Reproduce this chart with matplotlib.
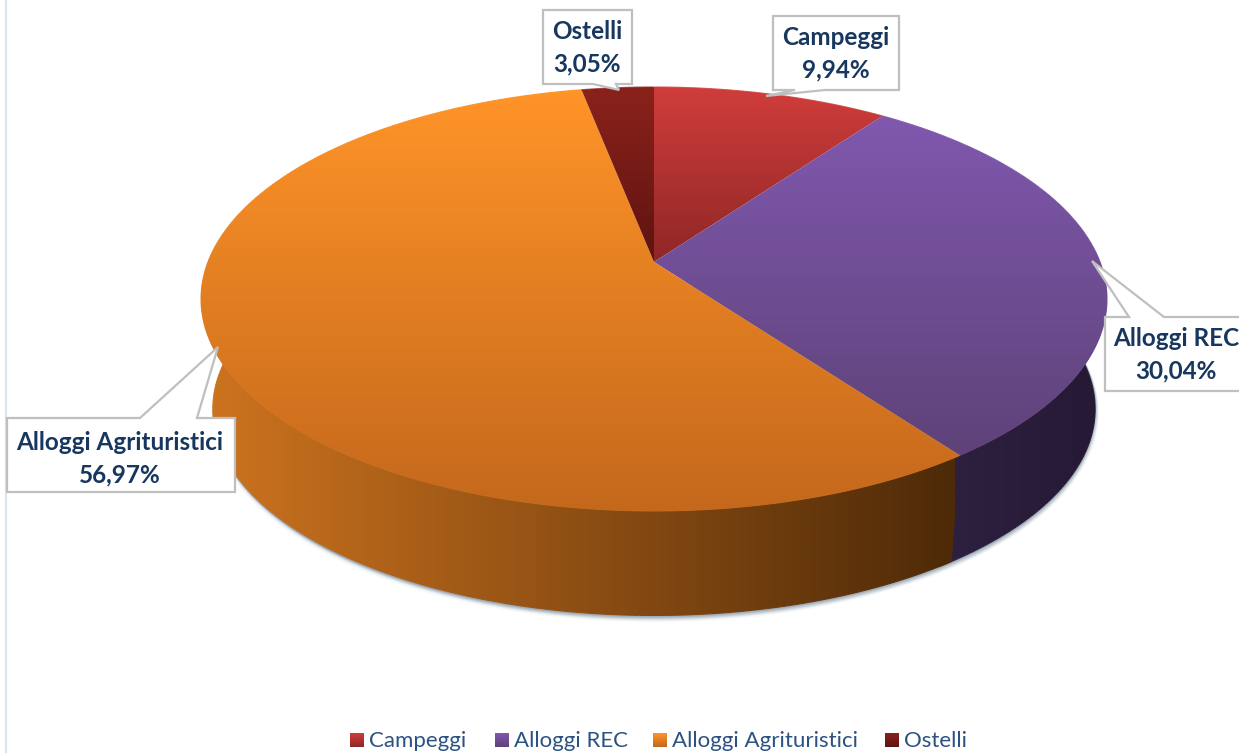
#!/usr/bin/env python3
import numpy as np
import matplotlib
matplotlib.use('Agg')
import matplotlib.pyplot as plt
from matplotlib.collections import LineCollection
from matplotlib.colors import LinearSegmentedColormap
from matplotlib.patches import PathPatch, Polygon
from matplotlib.path import Path

categories = ['Campeggi', 'Alloggi REC', 'Alloggi Agrituristici', 'Ostelli']
shares = [9.94, 30.04, 56.97, 3.05]

TEXT_DARK = '#17375E'; TEXT_LEG = '#2C5282'; BOX_EDGE = '#BFBFBF'
top_colors = [('#D03D3B', '#8E2726'), ('#8058AE', '#5E4278'),
              ('#FF9428', '#C4681C'), ('#8A221B', '#5F1310')]
side_colors = [('#8E2726', '#5F1A19'), ('#2E2140', '#241833'),
               ('#CE741F', '#4E2A08'), ('#5F1310', '#4A0F0C')]
# y span of the vertical gradient on each top slice
top_span = [(87, 262), (116, 456), (90, 511), (87, 262)]

CX, CY = 654, 262
KP = 0.1745; RX = 446; RY = 205.5
DEPTH = 111; SHRINK = 0.974

fig = plt.figure(figsize=(12.39, 7.53), dpi=100)
ax = fig.add_axes([0, 0, 1, 1])
ax.set_xlim(0, 1239); ax.set_ylim(753, 0); ax.axis('off')


def rim(deg, lower=False):
    t = np.radians(deg)
    c, s = np.sin(t), -np.cos(t)
    d = 1 - KP * s
    x, y = RX * c / d, RY * s / d
    if lower:
        return CX + SHRINK * x, CY + DEPTH + SHRINK * y
    return CX + x, CY + y


def grad(verts, c0, c1, x0, y0, x1, y1, vertical=True, z=2):
    cm = LinearSegmentedColormap.from_list('g', [c0, c1])
    arr = np.linspace(0, 1, 256)
    arr = arr[:, None] if vertical else arr[None, :]
    im = ax.imshow(arr, cmap=cm, extent=[x0, x1, y1, y0], aspect='auto', zorder=z,
                   interpolation='bilinear', origin='upper')
    clip = PathPatch(Path(verts), transform=ax.transData, fc='none', ec='none')
    ax.add_patch(clip)
    im.set_clip_path(clip)
    return cm


edges = np.concatenate([[0], np.cumsum(shares)]) / sum(shares) * 360

# soft shadow under the side wall
ang = np.linspace(60, 300, 200)
bx, by = rim(ang, True)
for off, a in zip([7, 6, 5, 4, 3, 2, 1], [.03, .04, .06, .08, .10, .14, .18]):
    ax.fill(bx, by + off, color='#6F8296', alpha=a, lw=0, zorder=1)
    ax.plot(bx + off * .4, by + off * .6, color='#6F8296', alpha=a, lw=1.5, zorder=1)

# side wall, only the part that can be seen; purple first so orange overlaps it
for i in [1, 2]:
    a0 = max(edges[i], 60); a1 = min(edges[i + 1], 300)
    if i == 1:
        a1 += 2
    ang = np.linspace(a0, a1, 200)
    tx, ty = rim(ang); bx, by = rim(ang, True)
    verts = np.r_[np.c_[tx, ty], np.c_[bx, by][::-1]]
    z = 2 + i * 0.1
    if i == 2:
        cm = grad(verts, side_colors[i][0], side_colors[i][1], 200, 250, 955, 620, vertical=False, z=z)
        shade = np.clip((bx - 200) / 755, 0, 1)
    else:
        cm = grad(verts, side_colors[i][0], side_colors[i][1], 950, 250, 1110, 620, vertical=False, z=z)
        shade = np.clip((bx - 950) / 160, 0, 1)
    # outer edge stroked in the local colour, the image clip alone is jagged
    segs = np.stack([np.c_[bx, by][:-1], np.c_[bx, by][1:]], axis=1)
    ax.add_collection(LineCollection(segs, colors=cm(shade[:-1]), lw=.8, zorder=z))

# top surface
for i, name in enumerate(categories):
    ang = np.linspace(edges[i], edges[i + 1], 300)
    x, y = rim(ang)
    verts = np.r_[[[CX, CY]], np.c_[x, y], [[CX, CY]]]
    y0, y1 = top_span[i]
    cm = grad(verts, top_colors[i][0], top_colors[i][1], 190, y0, 1120, y1, z=3)
    segs = np.stack([np.c_[x, y][:-1], np.c_[x, y][1:]], axis=1)
    ax.add_collection(LineCollection(segs, colors=cm(np.clip((y[:-1] - y0) / (y1 - y0), 0, 1)),
                                     lw=.8, zorder=3))

# left page rule
ax.plot([6, 6], [0, 753], color='#D6E4F5', lw=1.6, zorder=1)


def callout(outline, tx, ty, label, value):
    ax.add_patch(Polygon(outline, closed=True, fc='white', ec=BOX_EDGE, lw=1.6, zorder=5,
                         joinstyle='miter'))
    ax.text(tx, ty, f'{label}\n{value:.2f}%'.replace('.', ','), ha='center', va='center',
            color=TEXT_DARK, fontsize=17.5, fontweight='bold', family='Lato',
            linespacing=1.5, zorder=6)


callout([(773, 16), (899, 16), (899, 90), (825, 90), (766, 96), (795, 90), (773, 90)],
        836, 54, categories[0], shares[0])
callout([(1105, 317), (1129, 317), (1092, 261), (1164, 317), (1245, 317), (1245, 391), (1105, 391)],
        1176, 355, categories[1], shares[1])
callout([(7, 418), (140, 418), (218, 347), (197, 418), (235, 418), (235, 492), (7, 492)],
        120, 459, categories[2], shares[2])
callout([(543, 10), (632, 10), (632, 84), (616, 84), (619, 90), (593, 84), (543, 84)],
        587, 48, categories[3], shares[3])

# legend
leg_x = [350, 495, 653, 885]
for i, name in enumerate(categories):
    x0 = leg_x[i]
    cm = LinearSegmentedColormap.from_list('g', top_colors[i])
    ax.imshow(np.linspace(0, 1, 32)[:, None], cmap=cm, extent=[x0, x0 + 14, 747, 733],
              aspect='auto', zorder=4)
    ax.text(x0 + 19, 741, name, ha='left', va='center', color=TEXT_LEG, fontsize=16, family='Lato')

ax.set_xlim(0, 1239); ax.set_ylim(753, 0)
fig.savefig('out.png', dpi=100, facecolor='white')
